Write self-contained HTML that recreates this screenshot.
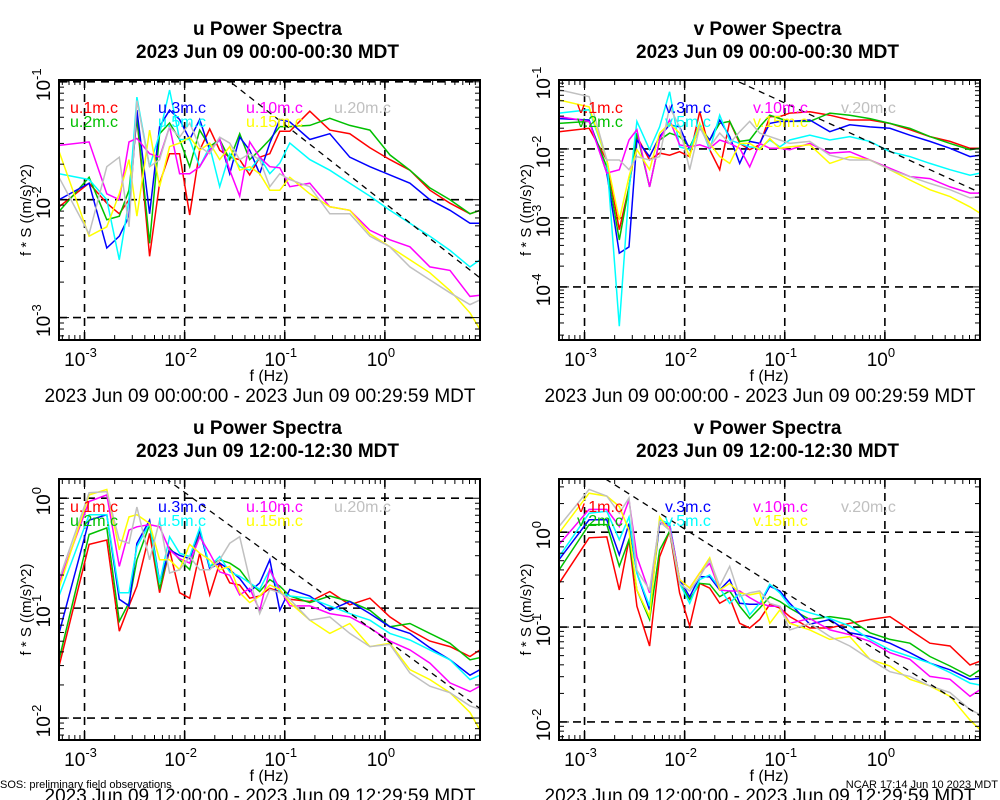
<!DOCTYPE html>
<html><head><meta charset="utf-8"><style>
html,body{margin:0;padding:0;background:#fff;}
svg{display:block;font-family:"Liberation Sans",Arial,sans-serif;}
</style></head><body>
<svg id="chart" width="1000" height="800" viewBox="0 0 1000 800" xmlns="http://www.w3.org/2000/svg"></svg>
<script>
// ---- data: log10 of frequency (Hz) ----
const logFreq = [-3.255,-2.954,-2.778,-2.653,-2.556,-2.477,-2.35,-2.25,-2.15,-2.05,-1.95,-1.85,-1.75,-1.65,-1.55,-1.45,-1.35,-1.25,-1.15,-1.05,-0.95,-0.75,-0.55,-0.35,-0.15,0.05,0.25,0.45,0.65,0.85,0.95];
const seriesNames = ["1m","2m","3m","5m","10m","15m","20m"];
// ---- top-left: u, 00:00-00:30 (log10 f*S) ----
const tl_1m  = [-2.06,-1.86,-2.03,-2.12,-2.00,-1.30,-2.48,-1.86,-1.61,-1.61,-2.13,-1.58,-1.40,-1.58,-1.64,-1.66,-1.79,-1.64,-1.61,-1.42,-1.42,-1.25,-1.41,-1.44,-1.56,-1.66,-1.75,-1.92,-2.03,-2.12,-2.09];
const tl_2m  = [-2.10,-1.81,-2.17,-2.14,-1.92,-1.30,-2.37,-1.44,-1.35,-1.49,-1.72,-1.41,-1.55,-1.49,-1.66,-1.44,-1.66,-1.58,-1.49,-1.38,-1.38,-1.37,-1.31,-1.37,-1.41,-1.62,-1.75,-1.90,-2.00,-2.12,-2.09];
const tl_3m  = [-2.00,-1.86,-2.41,-2.31,-2.14,-1.24,-2.12,-1.38,-1.24,-1.32,-1.49,-1.32,-1.58,-1.49,-1.78,-1.47,-1.58,-1.78,-1.52,-1.32,-1.34,-1.49,-1.44,-1.64,-1.72,-1.79,-1.86,-2.00,-2.09,-2.20,-2.20];
const tl_5m  = [-1.78,-1.83,-2.00,-2.51,-2.00,-1.13,-1.72,-1.44,-1.07,-1.49,-1.49,-1.72,-1.55,-1.89,-1.61,-1.72,-1.75,-1.64,-1.78,-1.69,-1.52,-1.66,-1.75,-1.86,-1.97,-2.09,-2.20,-2.31,-2.43,-2.57,-2.51];
const tl_10m = [-1.54,-1.51,-1.95,-2.00,-1.51,-1.48,-1.61,-1.64,-1.38,-1.78,-1.78,-1.72,-1.58,-1.49,-1.75,-1.97,-1.51,-1.64,-1.72,-1.73,-1.89,-1.86,-2.06,-2.09,-2.26,-2.34,-2.40,-2.57,-2.60,-2.82,-2.81];
const tl_15m = [-1.59,-2.31,-2.23,-1.95,-1.66,-2.14,-1.41,-1.89,-1.55,-1.52,-1.47,-1.58,-1.52,-1.66,-1.55,-1.75,-1.72,-1.78,-1.92,-1.92,-1.81,-1.95,-2.06,-2.09,-2.29,-2.40,-2.51,-2.62,-2.77,-2.96,-3.10];
const tl_20m = [-1.81,-2.29,-1.72,-1.64,-2.23,-1.16,-1.72,-1.66,-1.38,-1.47,-1.35,-1.55,-1.61,-1.47,-1.52,-1.66,-1.61,-1.66,-1.89,-1.78,-1.83,-1.89,-2.12,-2.12,-2.31,-2.40,-2.57,-2.68,-2.79,-2.89,-2.85];
// ---- top-right: v, 00:00-00:30 ----
const tr_1m  = [-1.75,-1.70,-2.16,-3.17,-2.55,-1.82,-2.16,-2.06,-2.09,-2.04,-2.11,-1.46,-2.01,-2.30,-1.60,-1.92,-2.01,-1.94,-1.53,-1.53,-1.48,-1.46,-1.51,-1.58,-1.58,-1.63,-1.72,-1.82,-1.89,-1.99,-1.99];
const tr_2m  = [-1.63,-1.60,-2.26,-3.32,-2.55,-1.77,-2.55,-1.87,-1.77,-1.82,-1.97,-1.68,-1.87,-1.63,-1.60,-1.89,-1.87,-1.68,-1.51,-1.56,-1.60,-1.60,-1.48,-1.51,-1.56,-1.63,-1.70,-1.82,-1.92,-2.01,-1.99];
const tr_3m  = [-1.56,-1.58,-2.35,-3.51,-3.42,-1.87,-2.11,-1.82,-1.65,-1.68,-2.01,-1.70,-1.87,-1.58,-1.82,-2.21,-1.89,-1.92,-1.63,-1.60,-1.60,-1.58,-1.75,-1.65,-1.68,-1.70,-1.80,-1.89,-1.99,-2.11,-2.09];
const tr_5m  = [-1.48,-1.43,-2.16,-4.57,-2.59,-1.60,-2.01,-1.68,-1.17,-1.97,-2.01,-1.63,-2.01,-1.51,-1.87,-1.92,-1.97,-1.99,-1.87,-1.97,-1.87,-1.80,-1.87,-1.82,-1.89,-2.04,-2.11,-2.21,-2.30,-2.38,-2.35];
const tr_10m = [-1.53,-1.60,-2.35,-2.30,-1.87,-1.72,-2.55,-1.87,-1.58,-1.94,-1.97,-1.94,-1.99,-1.87,-1.92,-1.99,-2.26,-1.92,-1.99,-1.99,-2.01,-1.92,-2.06,-2.04,-2.16,-2.28,-2.40,-2.43,-2.55,-2.64,-2.64];
const tr_15m = [-1.29,-1.39,-2.16,-3.03,-2.40,-2.01,-2.30,-1.77,-1.63,-1.77,-2.11,-1.63,-1.92,-2.11,-2.21,-1.92,-1.92,-2.01,-1.85,-1.99,-1.97,-1.94,-2.21,-2.11,-2.16,-2.30,-2.45,-2.59,-2.69,-2.84,-2.93];
const tr_20m = [-1.14,-1.24,-2.16,-2.16,-2.30,-2.11,-2.16,-2.11,-1.39,-1.68,-2.30,-1.68,-1.97,-1.77,-1.92,-1.75,-1.60,-1.77,-1.82,-1.87,-1.92,-1.89,-2.09,-2.16,-2.16,-2.30,-2.40,-2.50,-2.59,-2.71,-2.69];
// ---- bottom-left: u, 12:00-12:30 ----
const bl_1m  = [-1.53,-0.42,-0.38,-1.21,-0.98,-0.80,-0.32,-0.86,-0.47,-0.86,-0.91,-0.50,-0.88,-0.59,-0.77,-0.79,-0.91,-0.89,-0.82,-0.85,-0.92,-0.94,-0.85,-0.97,-0.91,-1.08,-1.20,-1.30,-1.35,-1.44,-1.38];
const bl_2m  = [-1.47,-0.33,-0.27,-1.12,-0.95,-0.56,-0.24,-0.83,-0.45,-0.56,-0.65,-0.30,-0.62,-0.56,-0.59,-0.65,-0.77,-0.85,-0.74,-0.80,-0.89,-0.95,-0.89,-0.94,-1.02,-1.17,-1.14,-1.23,-1.32,-1.47,-1.45];
const bl_3m  = [-1.23,-0.20,-0.15,-0.92,-0.98,-0.41,-0.20,-0.76,-0.47,-0.52,-0.55,-0.29,-0.64,-0.59,-0.65,-0.73,-0.85,-0.77,-0.56,-1.02,-0.83,-0.89,-1.02,-0.94,-1.05,-1.17,-1.23,-1.36,-1.47,-1.61,-1.56];
const bl_5m  = [-0.89,-0.15,-0.15,-0.86,-0.86,-0.44,-0.23,-0.77,-0.35,-0.50,-0.53,-0.27,-0.62,-0.53,-0.67,-0.71,-0.77,-0.83,-0.65,-0.86,-0.89,-0.91,-0.98,-1.05,-1.11,-1.23,-1.29,-1.38,-1.47,-1.65,-1.61];
const bl_10m = [-0.77,-0.03,0.03,-0.62,-0.29,-0.26,-0.24,-0.26,-0.47,-0.55,-0.59,-0.35,-0.50,-0.67,-0.70,-0.88,-0.82,-1.02,-0.65,-0.83,-0.98,-0.98,-1.05,-1.08,-1.18,-1.30,-1.38,-1.50,-1.68,-1.76,-1.71];
const bl_15m = [-0.82,0.03,0.08,-0.47,-0.17,-0.15,-0.23,-0.56,-0.56,-0.65,-0.42,-0.50,-0.56,-0.65,-0.62,-0.86,-0.95,-0.89,-0.79,-0.83,-0.95,-1.11,-1.23,-1.14,-1.35,-1.32,-1.56,-1.65,-1.77,-1.95,-2.11];
const bl_20m = [-0.74,0.05,0.06,-0.38,-0.41,-0.08,-0.56,-0.20,-0.68,-0.65,-0.53,-0.65,-0.65,-0.56,-0.41,-0.35,-0.74,-1.05,-0.83,-0.86,-0.92,-1.11,-1.08,-1.23,-1.35,-1.33,-1.59,-1.71,-1.77,-1.89,-1.92];
// ---- bottom-right: v, 12:00-12:30 ----
const br_1m  = [-0.54,-0.06,-0.05,-0.61,-0.08,-0.78,-1.20,-0.26,0.01,-0.64,-0.99,-0.54,-0.59,-0.75,-0.69,-0.96,-1.01,-0.92,-0.76,-0.80,-0.89,-1.01,-1.01,-0.96,-0.92,-0.89,-1.03,-1.17,-1.20,-1.40,-1.36];
const br_2m  = [-0.40,0.08,0.08,-0.36,-0.08,-0.61,-0.92,-0.19,0.01,-0.54,-0.71,-0.54,-0.55,-0.68,-0.62,-0.78,-0.91,-0.80,-0.68,-0.73,-0.80,-0.92,-0.89,-0.92,-1.06,-1.13,-1.17,-1.31,-1.41,-1.52,-1.45];
const br_3m  = [-0.29,0.13,0.13,-0.24,0.09,-0.43,-0.82,0.09,0.09,-0.50,-0.68,-0.47,-0.47,-0.61,-0.50,-0.75,-0.76,-0.76,-0.57,-0.62,-0.75,-0.97,-0.92,-1.06,-1.10,-1.17,-1.27,-1.38,-1.45,-1.55,-1.54];
const br_5m  = [-0.26,0.20,0.22,-0.08,0.16,-0.43,-0.78,0.13,0.09,-0.54,-0.75,-0.50,-0.45,-0.59,-0.75,-0.64,-0.87,-0.75,-0.55,-0.64,-0.78,-0.85,-0.91,-0.99,-1.13,-1.24,-1.31,-1.38,-1.48,-1.59,-1.61];
const br_10m = [-0.13,0.24,0.24,0.06,0.34,-0.26,-0.64,0.11,0.06,-0.50,-0.59,-0.43,-0.33,-0.61,-0.62,-0.62,-0.69,-0.75,-0.78,-0.78,-0.96,-0.91,-1.03,-1.08,-1.15,-1.27,-1.34,-1.52,-1.55,-1.73,-1.66];
const br_15m = [-0.01,0.41,0.38,0.27,0.02,-0.61,-0.89,0.16,0.02,-0.50,-0.59,-0.43,-0.27,-0.61,-0.54,-0.64,-0.66,-0.64,-0.96,-0.82,-0.96,-1.03,-1.13,-1.10,-1.34,-1.41,-1.55,-1.62,-1.73,-1.98,-2.08];
const br_20m = [0.06,0.45,0.38,0.20,0.36,-0.40,-0.61,0.11,0.02,-0.54,-0.62,-0.47,-0.29,-0.57,-0.36,-0.68,-0.64,-0.62,-0.75,-0.78,-1.03,-0.96,-1.10,-1.20,-1.34,-1.47,-1.52,-1.62,-1.69,-1.87,-1.92];
// reference -2/3 slope line intercepts (log10 at f = 1 Hz)
const refIntercepts = [-2.03, -2.0, -1.28, -1.30];
const refSlope = -2/3;
const panelTitles = ["u Power Spectra","v Power Spectra","u Power Spectra","v Power Spectra"];
const panelSubtitles = ["2023 Jun 09 00:00-00:30 MDT","2023 Jun 09 00:00-00:30 MDT","2023 Jun 09 12:00-12:30 MDT","2023 Jun 09 12:00-12:30 MDT"];
const rangeLabels = ["2023 Jun 09 00:00:00 - 2023 Jun 09 00:29:59 MDT","2023 Jun 09 00:00:00 - 2023 Jun 09 00:29:59 MDT","2023 Jun 09 12:00:00 - 2023 Jun 09 12:29:59 MDT","2023 Jun 09 12:00:00 - 2023 Jun 09 12:29:59 MDT"];
const xDecades = [-3,-2,-1,0];
const yDecadesList = [[-1,-2,-3],[-1,-2,-3,-4],[0,-1,-2],[0,-1,-2]];
const varPrefix = ["u","v","u","v"];

const seriesColors = ["#ff0000","#00c000","#0000ff","#00ffff","#ff00ff","#ffff00","#c0c0c0"];
const panelData = [
  [tl_1m,tl_2m,tl_3m,tl_5m,tl_10m,tl_15m,tl_20m],
  [tr_1m,tr_2m,tr_3m,tr_5m,tr_10m,tr_15m,tr_20m],
  [bl_1m,bl_2m,bl_3m,bl_5m,bl_10m,bl_15m,bl_20m],
  [br_1m,br_2m,br_3m,br_5m,br_10m,br_15m,br_20m]
];
const panels = [
  {id:"top-left",  x0:59, x1:480, y0:80,  y1:340, ly0:-0.985, ly1:-3.19},
  {id:"top-right", x0:559,x1:980, y0:80,  y1:340, ly0:-1.0,   ly1:-4.77},
  {id:"bottom-left",x0:59,x1:480, y0:479, y1:740, ly0:0.175,  ly1:-2.2},
  {id:"bottom-right",x0:559,x1:980,y0:479,y1:740, ly0:0.56,   ly1:-2.19}
];
const LX0=-3.255, LX1=0.95;
const NS="http://www.w3.org/2000/svg";
const svg=document.getElementById('chart');
function el(tag,attrs,parent){const e=document.createElementNS(NS,tag);for(const k in attrs)e.setAttribute(k,attrs[k]);(parent||svg).appendChild(e);return e;}
function xScale(p,l){return p.x0+(l-LX0)/(LX1-LX0)*(p.x1-p.x0);}
function yScale(p,l){return p.y0+(p.ly0-l)/(p.ly0-p.ly1)*(p.y1-p.y0);}

panels.forEach((p,pi)=>{
  const g=el('g',{});
  
  
  const cx=(p.x0+p.x1)/2 - 2;
  const tBase = pi<2?0:399;
  let t=el('text',{x:cx,y:35+tBase,'text-anchor':'middle','font-size':19,'font-weight':'bold'},g);
  t.textContent=panelTitles[pi];
  
  
  t=el('text',{x:cx,y:58+tBase,'text-anchor':'middle','font-size':19,'font-weight':'bold'},g);
  t.textContent=panelSubtitles[pi];
  
  
  const cp=el('clipPath',{id:'clip'+pi},g);
  el('rect',{x:p.x0,y:p.y0,width:p.x1-p.x0,height:p.y1-p.y0},cp);
  const grid=el('g',{stroke:'#000','stroke-width':1.6,'stroke-dasharray':'8,6',fill:'none'},g);
  
  
  xDecades.forEach(d=>{const x=xScale(p,d);el('line',{x1:x,x2:x,y1:p.y0,y2:p.y1},grid);});
  yDecadesList[pi].forEach(d=>{const y=yScale(p,d);el('line',{x1:p.x0,x2:p.x1,y1:y,y2:y},grid);});
  const sg=el('g',{'clip-path':'url(#clip'+pi+')',fill:'none','stroke-width':1.5},g);
  panelData[pi].forEach((arr,si)=>{
    const pts=arr.map((v,i)=>xScale(p,logFreq[i]).toFixed(1)+','+yScale(p,v).toFixed(1)).join(' ');
    const pl=el('polyline',{points:pts,stroke:seriesColors[si]},sg);
    
    
  });
  const rx0=LX0, rx1=LX1;
  const rl=el('line',{x1:xScale(p,rx0),y1:yScale(p,refIntercepts[pi]+refSlope*rx0),x2:xScale(p,rx1),y2:yScale(p,refIntercepts[pi]+refSlope*rx1),stroke:'#000','stroke-width':1.3,'stroke-dasharray':'6,5'},sg);
  
  
  const tk=el('g',{stroke:'#000','stroke-width':1},g);
  for(let d=-4;d<=1;d++){for(let m=1;m<10;m++){
    const l=d+Math.log10(m); if(l<LX0||l>LX1)continue;
    const x=xScale(p,l), len=m===1?10:5;
    el('line',{x1:x,x2:x,y1:p.y1,y2:p.y1-len},tk);el('line',{x1:x,x2:x,y1:p.y0,y2:p.y0+len},tk);
  }}
  for(let d=-6;d<=1;d++){for(let m=1;m<10;m++){
    const l=d+Math.log10(m); if(l>p.ly0||l<p.ly1)continue;
    const y=yScale(p,l), len=m===1?10:5;
    el('line',{x1:p.x0,x2:p.x0+len,y1:y,y2:y},tk);el('line',{x1:p.x1,x2:p.x1-len,y1:y,y2:y},tk);
  }}
  const box=el('rect',{x:p.x0,y:p.y0,width:p.x1-p.x0,height:p.y1-p.y0,fill:'none',stroke:'#000','stroke-width':2},g);
  
  
  xDecades.forEach(d=>{
    const tx=el('text',{x:xScale(p,d)-4,y:p.y1+26,'text-anchor':'middle','font-size':19},g);
    
    
    tx.appendChild(document.createTextNode('10'));
    const sp=el('tspan',{dy:-9,'font-size':13},tx);sp.textContent=String(d);
  });
  yDecadesList[pi].forEach(d=>{
    const y=yScale(p,d), bx=p.x0-9;
    const ty=el('text',{transform:'translate('+bx+','+(y+3)+') rotate(-90)','text-anchor':'middle','font-size':19},g);
    
    
    ty.appendChild(document.createTextNode('10'));
    const sp=el('tspan',{dy:-9,'font-size':13},ty);sp.textContent=String(d);
  });
  const xt=el('text',{x:p.x0+210,y:p.y1+41,'text-anchor':'middle','font-size':16},g);
  xt.textContent='f (Hz)';
  
  
  const yt=el('text',{transform:'translate('+(p.x0-28)+','+((p.y0+p.y1)/2)+') rotate(-90)','text-anchor':'middle','font-size':15},g);
  yt.textContent='f * S ((m/s)^2)';
  
  
  const rt=el('text',{x:p.x0+201,y:p.y1+62,'text-anchor':'middle','font-size':19},g);
  rt.textContent=rangeLabels[pi];
  
  
  const legPos=[[0,0],[0,1],[1,0],[1,1],[2,0],[2,1],[3,0]];
  const offX = pi%2===0?11:18;
  const rowY = [p.y0+33,p.y0+47];
  seriesNames.forEach((nm,si)=>{
    const lp=legPos[si];
    const lt=el('text',{x:p.x0+offX+lp[0]*88,y:rowY[lp[1]],'font-size':16,fill:seriesColors[si]},g);
    lt.textContent=varPrefix[pi]+'.'+nm+'.c';
    
    
  });
});
let ft=el('text',{x:0,y:788,'font-size':11});
ft.textContent='SOS: preliminary field observations';


ft=el('text',{x:998,y:788,'font-size':11,'text-anchor':'end'});
ft.textContent='NCAR 17:14 Jun 10 2023 MDT';


</script>
</body></html>
